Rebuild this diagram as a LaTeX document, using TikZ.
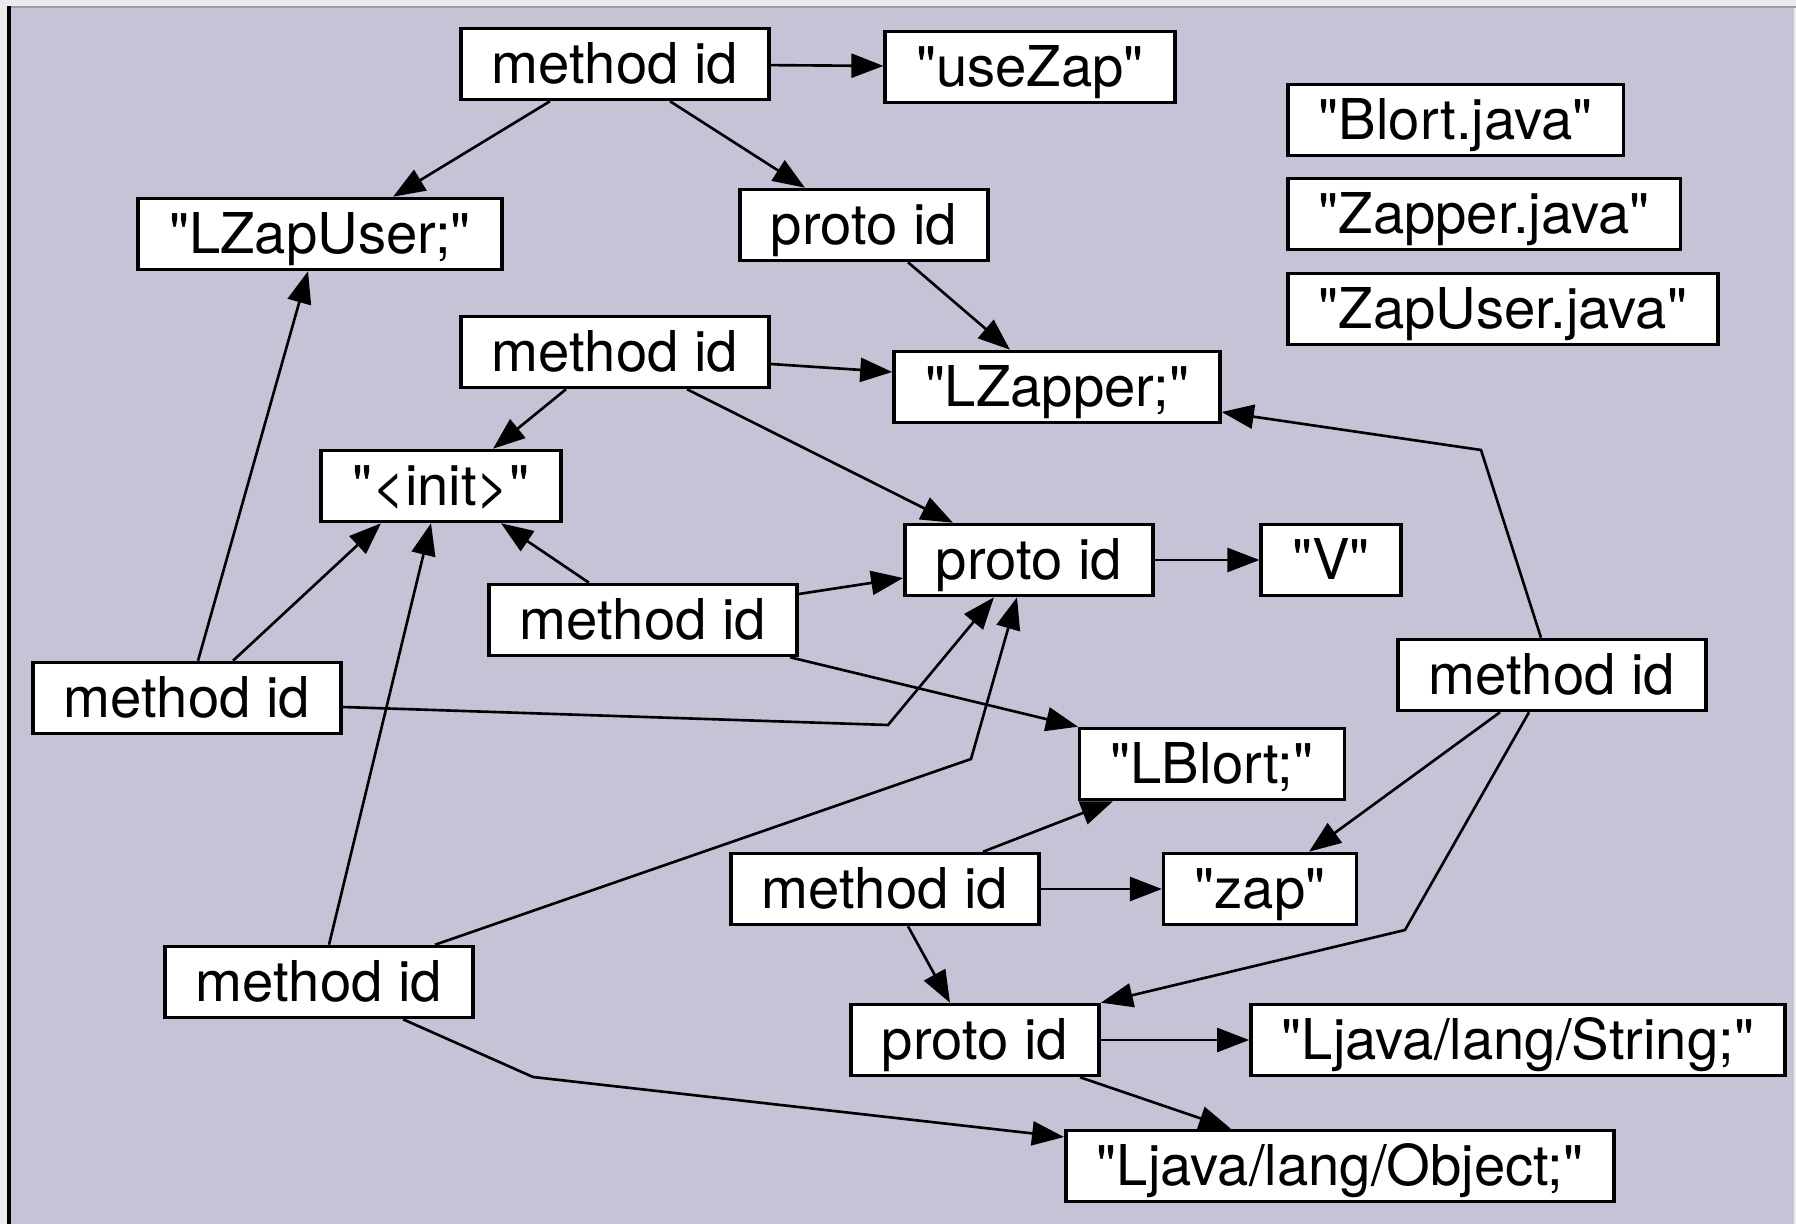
\documentclass[tikz,border=0pt]{standalone}
\usepackage{fontspec}
\setmainfont{TeX Gyre Heros}[Ligatures=TeXOff]
\usetikzlibrary{positioning,
	arrows.meta,
	calc}
\definecolor{panel}{HTML}{C4C4D6}
\definecolor{outer}{HTML}{ECECEC}
\definecolor{rim}{HTML}{9C9CAA}
\tikzstyle{box}=[draw, fill=white, line width=1pt, minimum height=0.71cm,
		inner xsep=0.31cm, inner ysep=0pt, text height=11pt, text depth=0pt,
		font=\fontsize{16}{19}\selectfont]
\tikzstyle{ln}=[line width=0.75pt, -{Triangle[length=0.32cm,width=0.24cm]}]

\begin{document}
\begin{tikzpicture}[x=0.01cm, y=-0.01cm]
	\useasboundingbox (0,0) rectangle (1796,1224);
	\fill[outer] (0,0) rectangle (1796,1224);
	\fill[panel] (11,8) rectangle (1794,1224);
	\fill[rim] (11,6) rectangle (1796,8);
	\fill[black] (7,6) rectangle (11,1224);

	\node[box] (m1) at (615,64) {method id};
	\node[box] (usezap) at (1030,67) {"useZap"};
	\node[box] (lzapuser) at (320,234) {"LZapUser;"};
	\node[box] (p1) at (864,225) {proto id};
	\node[box, anchor=west] (fblort) at (1286,120) {"Blort.java"};
	\node[box, anchor=west] (fzapper) at (1286,214) {"Zapper.java"};
	\node[box, anchor=west] (fzapuser) at (1286,309) {"ZapUser.java"};
	\node[box] (m2) at (615,352) {method id};
	\node[box] (lzapper) at (1057,387) {"LZapper;"};
	\node[box] (init) at (441,486) {"<init>"};
	\node[box] (p2) at (1029,560) {proto id};
	\node[box] (v) at (1331,560) {"V"};
	\node[box] (m3) at (643,620) {method id};
	\node[box] (m4) at (187,698) {method id};
	\node[box] (m5) at (1552,675) {method id};
	\node[box] (lblort) at (1212,764) {"LBlort;"};
	\node[box] (m6) at (885,889) {method id};
	\node[box] (zap) at (1260,889) {"zap"};
	\node[box] (m7) at (319,982) {method id};
	\node[box] (p3) at (975,1040) {proto id};
	\node[box] (string) at (1518,1040) {"Ljava/lang/String;"};
	\node[box] (object) at (1340,1166) {"Ljava/lang/Object;"};

	\coordinate (k4) at (888,725);
	\coordinate (k5a) at (1481,450);
	\coordinate (k5b) at (1405,930);
	\coordinate (k7a) at (971,759);
	\coordinate (k7b) at (533,1077);

	\draw[ln] (m1) -- (usezap);
	\draw[ln] ([xshift=-0.65cm]m1.south) -- ([xshift=0.73cm]lzapuser.north);
	\draw[ln] ([xshift=0.55cm]m1.south) -- ([xshift=-0.59cm]p1.north);
	\draw[ln] ([xshift=0.44cm]p1.south) -- ([xshift=-0.47cm]lzapper.north);
	\draw[ln] ([yshift=-0.12cm]m2.east) -- ([yshift=0.15cm]lzapper.west);
	\draw[ln] ([xshift=-0.49cm]m2.south) -- ([xshift=0.52cm]init.north);
	\draw[ln] ([xshift=0.72cm]m2.south) -- ([xshift=-0.76cm]p2.north);
	\draw[ln] (p2) -- (v);
	\draw[ln] ([xshift=-0.54cm]m3.north) -- ([xshift=0.6cm]init.south);
	\draw[ln] ([yshift=0.26cm]m3.east) -- ([yshift=-0.18cm]p2.west);
	\draw[ln] ([xshift=1.47cm]m3.south) -- (lblort.north west);
	\draw[ln] ([xshift=0.11cm]m4.north) -- ([xshift=-0.12cm]lzapuser.south);
	\draw[ln] ([xshift=0.46cm]m4.north) -- ([xshift=-0.6cm]init.south);
	\draw[ln] ([yshift=-0.09cm]m4.east) -- (k4) -- ([xshift=-0.35cm]p2.south);
	\draw[ln] ([xshift=-0.11cm]m5.north) -- (k5a) -- ([yshift=-0.25cm]lzapper.east);
	\draw[ln] ([xshift=-0.52cm]m5.south) -- ([xshift=0.49cm]zap.north);
	\draw[ln] ([xshift=-0.23cm]m5.south) -- (k5b) -- (p3.north east);
	\draw[ln] ([xshift=0.98cm]m6.north) -- ([xshift=-0.99cm]lblort.south);
	\draw[ln] (m6) -- (zap);
	\draw[ln] ([xshift=0.23cm]m6.south) -- ([xshift=-0.25cm]p3.north);
	\draw[ln] ([xshift=0.1cm]m7.north) -- ([xshift=-0.1cm]init.south);
	\draw[ln] ([xshift=1.16cm]m7.north) -- (k7a) -- ([xshift=-0.12cm]p2.south);
	\draw[ln] ([xshift=0.84cm]m7.south) -- (k7b) -- ([yshift=0.29cm]object.west);
	\draw[ln] (p3) -- (string);
	\draw[ln] ([xshift=1.05cm]p3.south) -- ([xshift=-1.09cm]object.north);
\end{tikzpicture}
\end{document}
